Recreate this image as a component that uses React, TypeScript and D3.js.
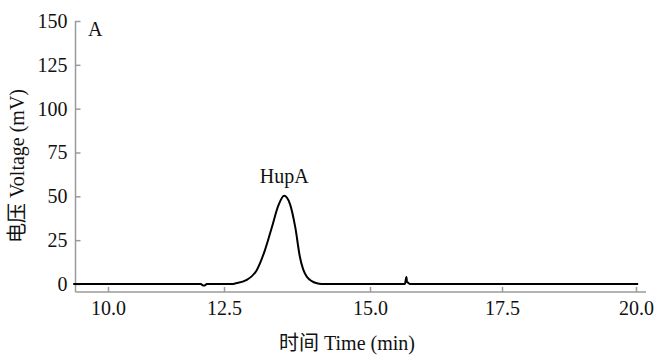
import React, { useEffect, useRef } from 'react';
import * as d3 from 'd3';

// chromatogram (min, mV)
const times = [9.25, 12.0, 12.05, 12.08, 12.13, 12.64, 12.69, 12.89, 13.06, 13.2, 13.32, 13.43, 13.53, 13.63, 13.72, 13.8, 13.92, 14.09, 14.17, 15.66, 15.69, 15.7, 15.72, 15.75, 20.04];
const voltage = [0, 0, -0.9, -0.9, 0, 0, 0.3, 2.3, 7.9, 19.2, 32.4, 44.7, 50.3, 45.6, 32.4, 15.4, 4.1, 0.4, 0, 0, 4, 1.2, 0.8, 0, 0];

const xTicks = [10, 12.5, 15, 17.5, 20];
const yTicks = [0, 25, 50, 75, 100, 125, 150];
const peakName = 'HupA';
const peakTime = 13.53;
const peakValue = 50.3;

const font = '"Liberation Serif", "Noto Sans CJK SC", serif';
const axisColor = '#9a9a9a';

const App = () => {
  const chartRef = useRef<SVGSVGElement | null>(null);

  useEffect(() => {
    document.body.style.margin = '0';
    const width = 654;
    const height = 356;
    const axisX = 75.5;
    const axisY = 292;

    const svg = d3.select(chartRef.current);
    svg.selectAll('*').remove();
    svg.attr('width', width).attr('height', height);

    // the printed axis is not evenly spaced, so map each tick where it sits
    const x = d3.scaleLinear()
      .domain(xTicks)
      .range([108, 224, 370, 502, 636]);
    const y = d3.scaleLinear()
      .domain([0, 150])
      .range([284, 21]);

    // axes frame
    svg.append('line')
      .attr('x1', axisX).attr('x2', axisX)
      .attr('y1', y(150)).attr('y2', axisY)
      .attr('stroke', axisColor).attr('stroke-width', 1.5);
    svg.append('line')
      .attr('x1', axisX).attr('x2', 646)
      .attr('y1', axisY).attr('y2', axisY)
      .attr('stroke', axisColor).attr('stroke-width', 1.5);

    const yAxis = svg.append('g')
      .attr('transform', `translate(${axisX},0)`)
      .call(d3.axisLeft(y).tickValues(yTicks).tickSize(-5).tickPadding(8).tickFormat(d3.format('d')));
    yAxis.select('.domain').remove();

    const xAxis = svg.append('g')
      .attr('transform', `translate(0,${axisY})`)
      .call(d3.axisBottom(x).tickValues(xTicks).tickSize(-5).tickPadding(9).tickFormat(d3.format('.1f')));
    xAxis.select('.domain').remove();

    svg.selectAll('.tick line').attr('stroke', axisColor).attr('stroke-width', 1.5);
    svg.selectAll('.tick text')
      .attr('fill', '#111')
      .style('font-family', font)
      .style('font-size', '20px');

    // signal
    const data = times.map((t, i) => ({ t, v: voltage[i] }));
    const line = d3.line<{ t: number; v: number }>()
      .x(d => x(d.t))
      .y(d => y(d.v))
      .curve(d3.curveMonotoneX);
    svg.append('path')
      .datum(data)
      .attr('fill', 'none')
      .attr('stroke', '#000')
      .attr('stroke-width', 2)
      .attr('stroke-linejoin', 'round')
      .attr('d', line);

    // labels
    svg.append('text')
      .attr('x', x(peakTime))
      .attr('y', y(peakValue) - 13)
      .attr('text-anchor', 'middle')
      .style('font-family', font)
      .style('font-size', '20px')
      .attr('fill', '#111')
      .text(peakName);

    svg.append('text')
      .attr('x', 88)
      .attr('y', 36)
      .style('font-family', font)
      .style('font-size', '20px')
      .attr('fill', '#111')
      .text('A');

    svg.append('text')
      .attr('transform', 'translate(17,166) rotate(-90)')
      .attr('text-anchor', 'middle')
      .attr('dominant-baseline', 'central')
      .style('font-family', font)
      .style('font-size', '20px')
      .attr('fill', '#111')
      .text('电压 Voltage (mV)');

    svg.append('text')
      .attr('x', 347)
      .attr('y', 350)
      .attr('text-anchor', 'middle')
      .style('font-family', font)
      .style('font-size', '20px')
      .attr('fill', '#111')
      .text('时间 Time (min)');
  }, []);

  return <svg ref={chartRef} style={{ display: 'block' }} />;
};

export default App;
